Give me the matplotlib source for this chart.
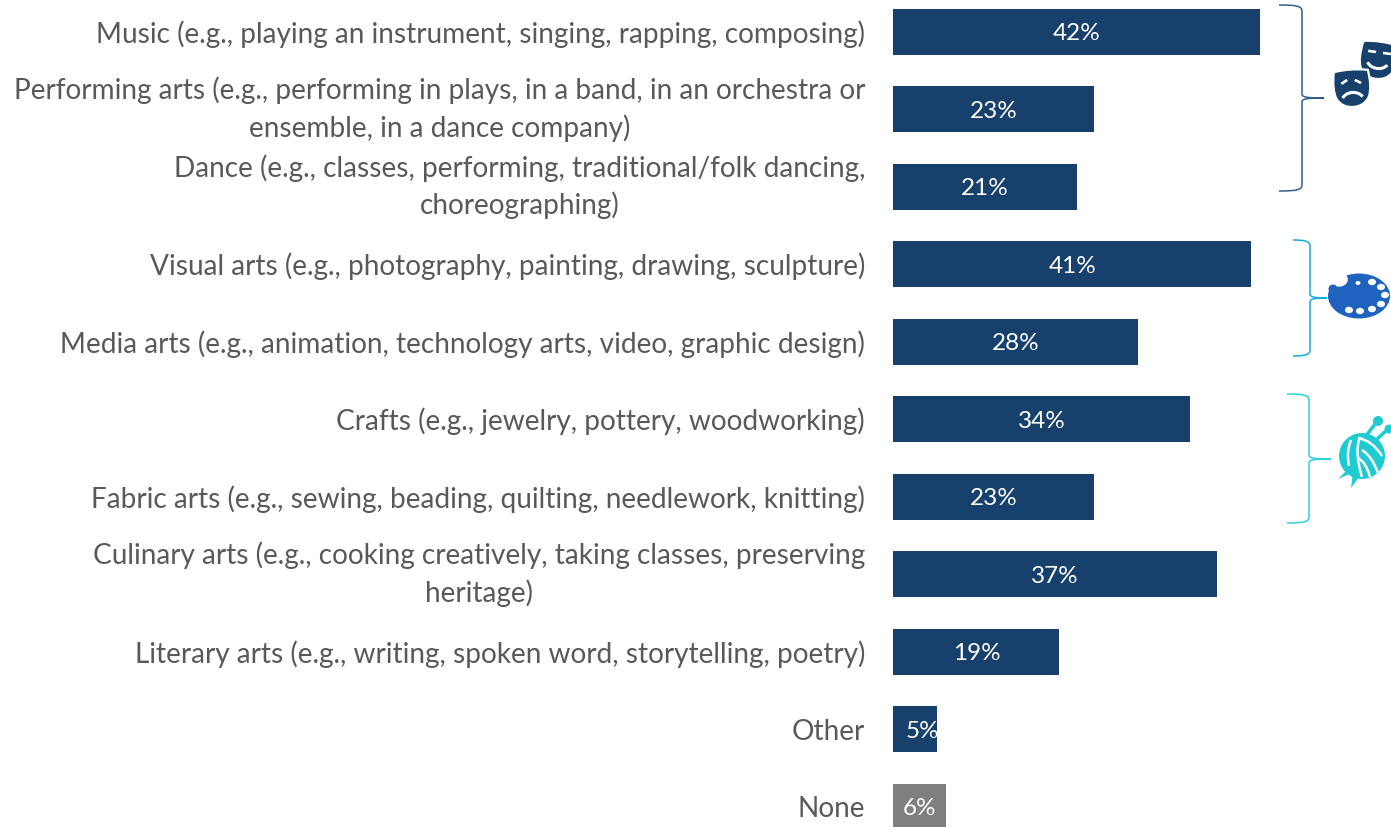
import numpy as np
import matplotlib
matplotlib.use('Agg')
import matplotlib.pyplot as plt
import matplotlib.patches as patches
from matplotlib.path import Path
from matplotlib.transforms import Affine2D

plt.rcParams['font.family'] = ['Lato', 'DejaVu Sans']

# --- data ---
labels = [
    'Music (e.g., playing an instrument, singing, rapping, composing)',
    'Performing arts (e.g., performing in plays, in a band, in an orchestra or\nensemble, in a dance company)',
    'Dance (e.g., classes, performing, traditional/folk dancing,\nchoreographing)',
    'Visual arts (e.g., photography, painting, drawing, sculpture)',
    'Media arts (e.g., animation, technology arts, video, graphic design)',
    'Crafts (e.g., jewelry, pottery, woodworking)',
    'Fabric arts (e.g., sewing, beading, quilting, needlework, knitting)',
    'Culinary arts (e.g., cooking creatively, taking classes, preserving\nheritage)',
    'Literary arts (e.g., writing, spoken word, storytelling, poetry)',
    'Other',
    'None',
]
values = [42, 23, 21, 41, 28, 34, 23, 37, 19, 5, 6]

NAVY = '#17406D'
GREY = '#7F7F7F'
W, H = 1391, 827
colors = [NAVY] * 10 + [GREY]

fig = plt.figure(figsize=(W / 100, H / 100), dpi=100)

# --- bars ---
ax = fig.add_axes([893.5 / W, 0, (W - 893.5) / W, 1])
y = np.arange(len(values))
ax.barh(y, values, height=46 / 77.5, color=colors)
ax.set_xlim(0, (W - 893.5) / 8.73)
ax.set_ylim((H - 31.5) / 77.5, -31.5 / 77.5)
ax.set_yticks(y)
ax.set_yticklabels(labels, fontsize=20.2, color='#595959', ha='right',
                   multialignment='center', linespacing=1.44)
# one-line labels sit on the baseline centre, two-line ones on the block centre
for lab, txt in zip(ax.get_yticklabels(), labels):
    lab.set_va('center' if '\n' in txt else 'center_baseline')
ax.set_xticks([])
ax.tick_params(axis='y', length=0, pad=20.5)
for s in ax.spines.values():
    s.set_visible(False)
ax.patch.set_alpha(0)

for i, v in enumerate(values):
    # the 5% label sits off centre in the original and runs over the bar edge
    dx = 7 if v == 5 else 0
    ax.annotate(f'{v}%', (v / 2, i), xytext=(dx * 0.72, -1.5), textcoords='offset points',
                ha='center', va='center', color='white', fontsize=17.5)

# --- overlay in pixel coordinates for braces and icons ---
ov = fig.add_axes([0, 0, 1, 1])
ov.set_xlim(0, W)
ov.set_ylim(H, 0)
ov.axis('off')
ov.patch.set_alpha(0)


def brace(x0, xs, xp, top, mid, bot, color):
    c = 6
    verts = [(x0, top), (xs - 6, top), (xs, top + 1), (xs, top + c),
             (xs, mid - 4), (xs, mid - 1), (xs + 4, mid), (xp, mid),
             (xs + 4, mid), (xs, mid + 1), (xs, mid + 4), (xs, bot - c),
             (xs, bot - 1), (xs - 6, bot), (x0, bot)]
    codes = [Path.MOVETO, Path.CURVE4, Path.CURVE4, Path.CURVE4,
             Path.LINETO, Path.CURVE4, Path.CURVE4, Path.CURVE4,
             Path.CURVE4, Path.CURVE4, Path.CURVE4, Path.LINETO,
             Path.CURVE4, Path.CURVE4, Path.CURVE4]
    ov.add_patch(patches.PathPatch(Path(verts, codes), fc='none', ec=color, lw=1.1))


brace(1279, 1302, 1324, 5, 98, 191, '#2F5F8F')
brace(1293, 1310, 1327, 240, 298, 356, '#14ABE3')
brace(1287, 1309, 1331, 394, 459, 523, '#2DD0DC')


def mask(cx, cy, rot, happy):
    # shield shape, local coords centred on the face
    verts = [(-17, -17), (-6, -19), (6, -19), (17, -17),
             (19, -6), (19, 4), (16, 10), (13, 16), (7, 19), (0, 19),
             (-7, 19), (-13, 16), (-16, 10), (-19, 4), (-19, -6), (-17, -17)]
    codes = [Path.MOVETO] + [Path.CURVE4] * 15
    tr = Affine2D().rotate_deg(rot).translate(cx, cy) + ov.transData
    ov.add_patch(patches.PathPatch(Path(verts, codes), fc=NAVY, ec='white', lw=1.6, transform=tr))
    if happy:
        ov.add_patch(patches.Rectangle((-11, -9), 8, 2.6, fc='white', ec='none', transform=tr))
        ov.add_patch(patches.Rectangle((4, -9), 8, 2.6, fc='white', ec='none', transform=tr))
        ov.add_patch(patches.Arc((0, 0), 22, 17, theta1=20, theta2=160, ec='white', lw=2.2, transform=tr))
    else:
        ov.add_patch(patches.Rectangle((-11, -6), 7, 2.6, angle=-30, fc='white', ec='none', transform=tr))
        ov.add_patch(patches.Rectangle((4, -9), 7, 2.6, angle=30, fc='white', ec='none', transform=tr))
        ov.add_patch(patches.Arc((0, 13), 22, 17, theta1=200, theta2=340, ec='white', lw=2.2, transform=tr))


mask(1378, 60, 8, True)
mask(1352, 88, -4, False)

# palette
PAL = '#1F63BE'
ov.add_patch(patches.Ellipse((1359, 296), 62, 45, fc=PAL, ec='none'))
ov.add_patch(patches.Ellipse((1336, 278), 24, 17, angle=15, fc='white', ec='none'))
ov.add_patch(patches.Ellipse((1333, 289), 9, 9, fc=PAL, ec='none'))
for hx, hy, hr in [(1358, 283, 2.5), (1372, 282, 4), (1381, 287, 4), (1385, 295, 4),
                   (1381, 304, 4), (1372, 309, 4), (1360, 311, 4), (1349, 310, 4)]:
    ov.add_patch(patches.Ellipse((hx, hy), hr * 2, hr * 1.6, fc='white', ec='none'))

# yarn ball
YARN = '#1FCBD3'
ov.plot([1366, 1378], [436, 420], color=YARN, lw=2.5, solid_capstyle='round')
ov.plot([1376, 1388], [440, 429], color=YARN, lw=2.5, solid_capstyle='round')
ov.add_patch(patches.Circle((1378, 421), 5, fc=YARN, ec='none'))
ov.add_patch(patches.Circle((1389, 429), 4.5, fc=YARN, ec='none'))
ov.add_patch(patches.Polygon([(1338, 479), (1349, 468), (1352, 473)], fc=YARN, ec='none'))
ov.add_patch(patches.Polygon([(1351, 488), (1353, 472), (1360, 476)], fc=YARN, ec='none'))
ov.add_patch(patches.Ellipse((1362, 456), 46, 46, fc=YARN, ec='none'))
strands = [[(1351, 440), (1346, 452), (1349, 466)],
           [(1360, 437), (1354, 452), (1362, 477)],
           [(1358, 438), (1372, 440), (1382, 456)],
           [(1362, 450), (1372, 456), (1378, 473)],
           [(1358, 458), (1366, 462), (1370, 477)]]
for pts in strands:
    ov.add_patch(patches.PathPatch(Path(pts, [Path.MOVETO, Path.CURVE3, Path.CURVE3]),
                                   fc='none', ec='white', lw=1.8))

fig.savefig('out.png', dpi=100)
